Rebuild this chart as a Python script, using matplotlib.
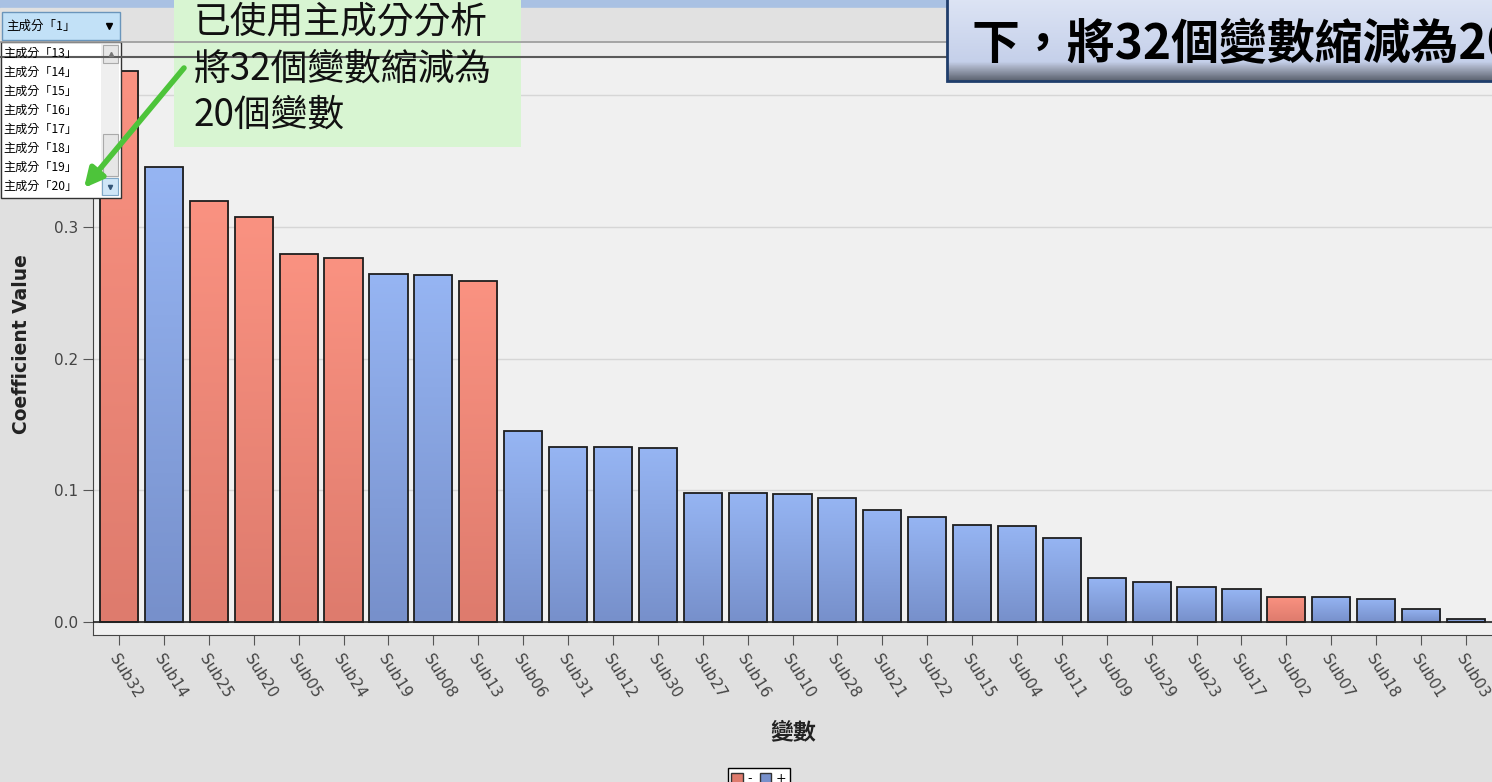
import matplotlib.pyplot as plt
import numpy as np
from matplotlib.patches import Rectangle, Patch
from matplotlib.colors import LinearSegmentedColormap

plt.rcParams['font.family'] = ['DejaVu Sans', 'Noto Sans CJK TC']
CJK = ['Noto Sans CJK TC', 'DejaVu Sans']

# data
variables = ['Sub32', 'Sub14', 'Sub25', 'Sub20', 'Sub05', 'Sub24', 'Sub19', 'Sub08',
             'Sub13', 'Sub06', 'Sub31', 'Sub12', 'Sub30', 'Sub27', 'Sub16', 'Sub10',
             'Sub28', 'Sub21', 'Sub22', 'Sub15', 'Sub04', 'Sub11', 'Sub09', 'Sub29',
             'Sub23', 'Sub17', 'Sub02', 'Sub07', 'Sub18', 'Sub01', 'Sub03']
coefficients = [0.418, 0.345, 0.319, 0.307, 0.279, 0.276, 0.264, 0.263,
                0.259, 0.145, 0.133, 0.133, 0.132, 0.098, 0.098, 0.097,
                0.094, 0.085, 0.080, 0.074, 0.073, 0.064, 0.034, 0.031,
                0.027, 0.025, 0.019, 0.019, 0.018, 0.010, 0.003]
signs = ['-', '+', '-', '-', '-', '-', '+', '+',
         '-', '+', '+', '+', '+', '+', '+', '+',
         '+', '+', '+', '+', '+', '+', '+', '+',
         '+', '+', '-', '+', '+', '+', '+']
yticks = [0.0, 0.1, 0.2, 0.3, 0.4]
components = ['主成分「13」', '主成分「14」', '主成分「15」', '主成分「16」',
              '主成分「17」', '主成分「18」', '主成分「19」', '主成分「20」']
selected = '主成分「1」'

colours = {'-': ('#fa9281', '#de7b6d'), '+': ('#96b5f3', '#7790cb')}

W, H = 1492, 782
fig = plt.figure(figsize=(W / 100, H / 100), dpi=100)
fig.patch.set_facecolor('#e0e0e0')

ax = fig.add_axes([93 / W, 1 - 635 / H, 1 - 93 / W, (635 - 58) / H])
ax.set_facecolor('#f0f0f0')
x = np.arange(len(variables))
bars = ax.bar(x, coefficients, width=0.85, color='none', edgecolor='#1e1e1e',
              linewidth=1.3, zorder=3)
grad = np.linspace(0, 1, 100).reshape(-1, 1)
for bar, s in zip(bars, signs):
    top, bottom = colours[s]
    cmap = LinearSegmentedColormap.from_list('g', [bottom, top])
    bx, bw, bh = bar.get_x(), bar.get_width(), bar.get_height()
    im = ax.imshow(grad, cmap=cmap, extent=[bx, bx + bw, 0, bh], origin='lower',
                   aspect='auto', zorder=2, interpolation='bilinear')
    im.set_clip_path(bar)

ax.axhline(0, color='#222222', lw=1.2, zorder=4)
ax.set_xlim(-0.58, 30.58)
ax.set_ylim(-0.0095, 0.4277)
ax.set_yticks(yticks)
# the 0.4 label sits under the drop-down list
ax.set_yticklabels([f'{v:.1f}' if v < 0.35 else '' for v in yticks])
ax.yaxis.grid(True, color='#d6d6d6', lw=1)
ax.set_axisbelow(True)
ax.set_xticks(x)
ax.set_xticklabels(variables, rotation=-58, ha='left', va='top', rotation_mode='anchor')
ax.tick_params(axis='both', length=7, color='#555555', labelcolor='#444444', labelsize=11)
ax.tick_params(axis='x', pad=5)
for side in ['top', 'right']:
    ax.spines[side].set_visible(False)
for side in ['left', 'bottom']:
    ax.spines[side].set_color('#444444')

fig.text(22 / W, 1 - 344 / H, 'Coefficient Value', rotation=90, fontweight='bold',
         fontsize=13.5, color='#222222', ha='center', va='center')
fig.text(793 / W, 1 - 733 / H, '變數', family=CJK, fontweight='bold', fontsize=16.5,
         color='#222222', ha='center', va='center')

handles = [Patch(facecolor=colours['-'][1], edgecolor='#333333'),
           Patch(facecolor=colours['+'][1], edgecolor='#333333')]
leg = fig.legend(handles, ['-', '+'], loc='upper center', bbox_to_anchor=(759 / W, 1 - 762 / H),
                 ncol=2, fontsize=9, handlelength=0.9, handleheight=0.9, columnspacing=0.6,
                 handletextpad=0.4, borderpad=0.3, fancybox=False, edgecolor='black',
                 framealpha=1)
leg.get_frame().set_linewidth(1)

# window decorations, callouts
ov = fig.add_axes([0, 0, 1, 1], zorder=10)
ov.patch.set_alpha(0)
ov.axis('off')

ov.add_patch(Rectangle((0, 0), W, 8, color='#a9c1e3'))
ov.add_patch(Rectangle((0, 8), W, 34, color='#e1e1e1'))
ov.plot([0, W], [42, 42], color='#9a9a9a', lw=1.2)
ov.add_patch(Rectangle((0, 43), W, 14, color='#ebebeb'))
ov.plot([0, W], [57, 57], color='#5a5a5a', lw=1.5)

ov.add_patch(Rectangle((2, 12), 118, 28, facecolor='#c2e1f7', edgecolor='#6a95bb', lw=1))
ov.text(6, 26, selected, family=CJK, fontsize=9, va='center', ha='left')
ov.plot([109], [26], marker='v', color='black', ms=5)
ov.add_patch(Rectangle((1, 42), 120, 156, facecolor='white', edgecolor='#333333', lw=1))
for i, c in enumerate(components):
    ov.text(3, 53 + 19 * i, c, family=CJK, fontsize=8.7, va='center', ha='left')
ov.add_patch(Rectangle((101, 44), 18, 152, facecolor='#efefef', edgecolor='none'))
ov.add_patch(Rectangle((103, 45), 15, 18, facecolor='#e6e6e6', edgecolor='#aaaaaa', lw=0.8))
ov.add_patch(Rectangle((103, 134), 15, 42, facecolor='#e6e6e6', edgecolor='#aaaaaa', lw=0.8))
ov.add_patch(Rectangle((102, 178), 16, 17, facecolor='#cfe6f7', edgecolor='#7fa8c8', lw=0.8))
ov.plot([110.5], [54], marker='^', color='#777777', ms=3)
ov.plot([110], [187], marker='v', color='#335577', ms=3)

ov.add_patch(Rectangle((174, -2), 347, 149, facecolor='#d8f5d2', edgecolor='none'))
for yy, line in zip([22, 69, 115], ['已使用主成分分析', '將32個變數縮減為', '20個變數']):
    ov.text(194, yy, line, family=CJK, fontsize=26.5, va='center', ha='left', color='#111111')
ov.annotate('', xy=(84, 188), xytext=(184, 68),
            arrowprops=dict(arrowstyle='-|>', color='#4dc43a', lw=4, mutation_scale=28,
                            shrinkA=0, shrinkB=0))

box_cmap = LinearSegmentedColormap.from_list('b', [(0, '#dee5f5'), (0.78, '#c5d0ea'),
                                                   (0.84, '#a9b1c5'), (1, '#5c6370')])
ov.imshow(np.linspace(0, 1, 100).reshape(-1, 1), cmap=box_cmap, extent=[947, W + 5, 81, -5],
          aspect='auto', interpolation='bilinear', zorder=5)
ov.add_patch(Rectangle((947, -5), 560, 86, facecolor='none', edgecolor='#1f3d6b', lw=2, zorder=6))
ov.text(972, 45, '下，將32個變數縮減為20', family=CJK, fontsize=34.5, fontweight='bold',
        va='center', ha='left', color='black', zorder=7)

ov.set_xlim(0, W)
ov.set_ylim(H, 0)

fig.savefig('out.png', dpi=100, facecolor=fig.get_facecolor())
